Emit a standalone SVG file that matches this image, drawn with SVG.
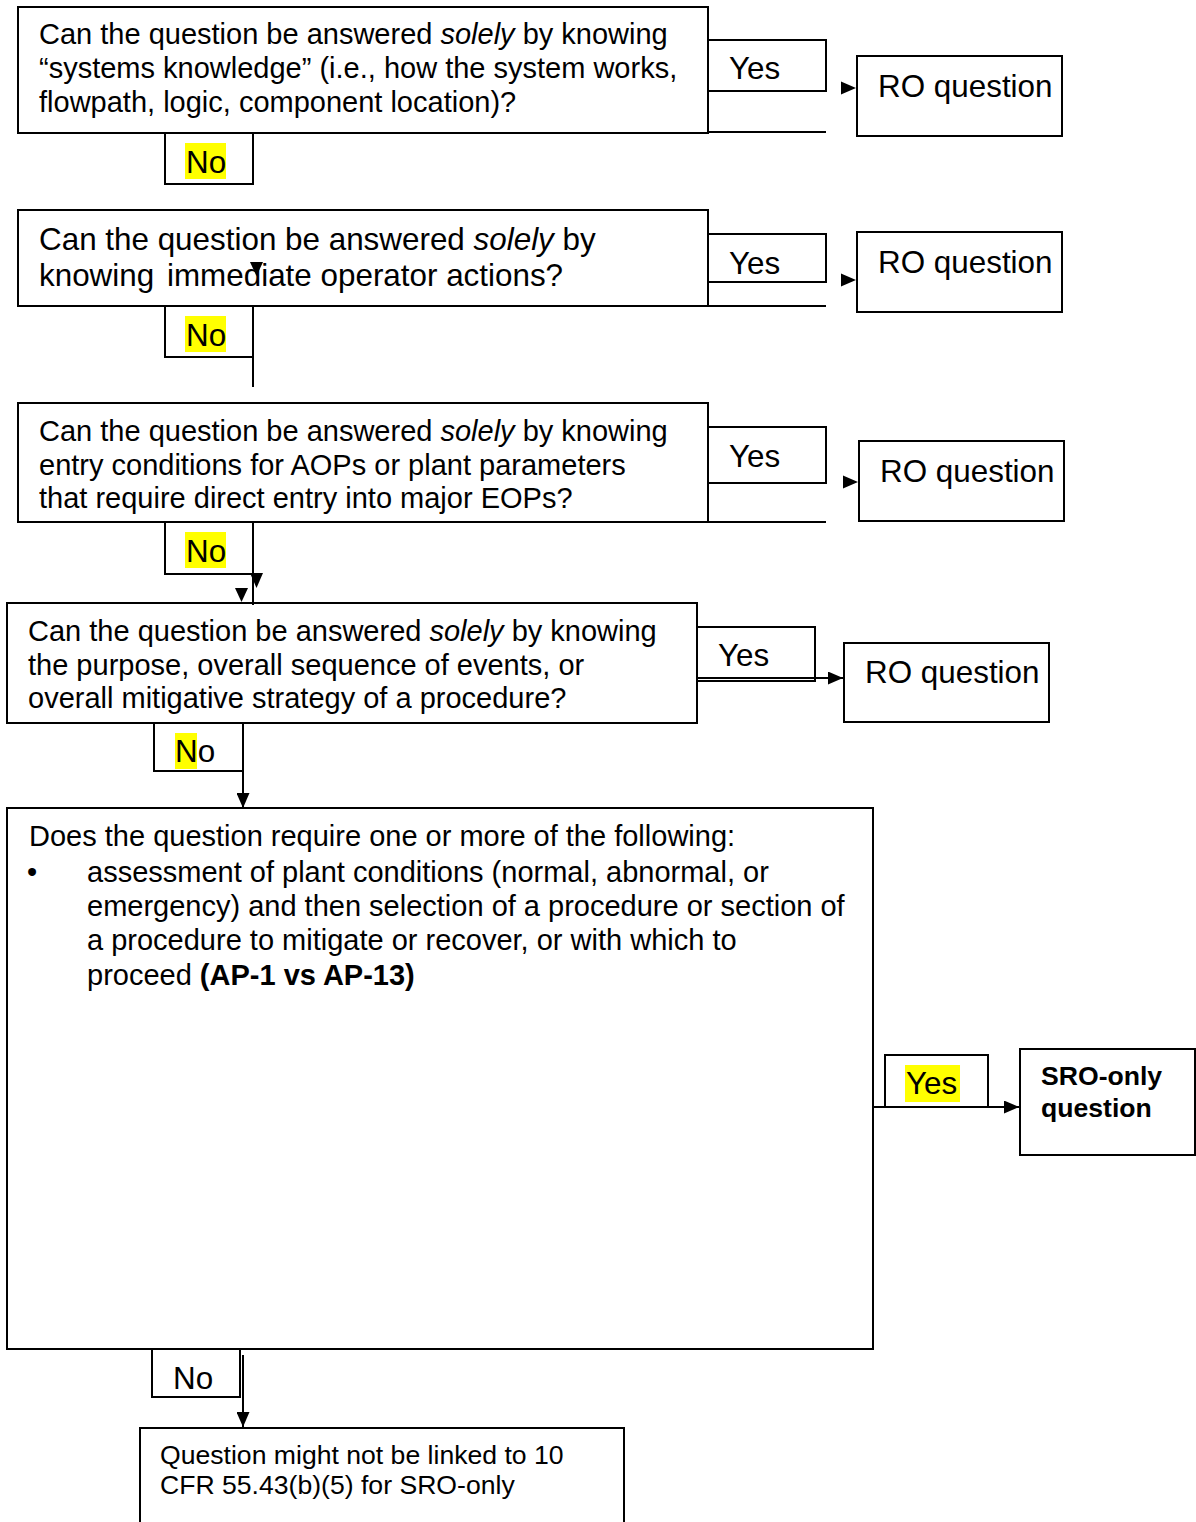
<svg xmlns="http://www.w3.org/2000/svg" width="1196" height="1522" viewBox="0 0 1196 1522">
<style>
.box{fill:#fff;stroke:#000;stroke-width:2}
.lbl{fill:none;stroke:#000;stroke-width:2}
.ln{fill:none;stroke:#000;stroke-width:2}
.t{font-family:"Liberation Sans",Arial,sans-serif;fill:#000}
.s12{font-size:29px}
.s13{font-size:31.4px}
.s11{font-size:26.6px}
.b{font-weight:bold}
.i{font-style:italic}
.hl{fill:#ffff00}
.ah{fill:#000}
</style>
<defs>
<marker id="arr" viewBox="0 0 15 13" refX="15" refY="6.5" markerUnits="userSpaceOnUse" markerWidth="15" markerHeight="13" orient="auto">
<path d="M0,0 L15,6.5 L0,13 z" fill="#000"/>
</marker>
</defs>
<rect x="0" y="0" width="1196" height="1522" fill="#fff"/>

<g id="q1">
<rect class="box" x="18" y="7" width="690" height="126"/>
<text class="t s12" x="39" y="44">Can the question be answered <tspan class="i">solely</tspan> by knowing</text>
<text class="t s12" x="39" y="78">“systems knowledge” (i.e., how the system works,</text>
<text class="t s12" x="39" y="112">flowpath, logic, component location)?</text>
</g>
<g id="ro1">
<rect class="box" x="857" y="56" width="205" height="80"/>
<text class="t s13" x="878" y="97">RO question</text>
</g>

<g id="q2">
<rect class="box" x="18" y="210" width="690" height="96"/>
<text class="t s13" x="39" y="250">Can the question be answered <tspan class="i">solely</tspan> by</text>
<text class="t s13" x="39" y="286">knowing<tspan x="167">immediate operator actions?</tspan></text>
</g>
<g id="ro2">
<rect class="box" x="857" y="232" width="205" height="80"/>
<text class="t s13" x="878" y="273">RO question</text>
</g>

<g id="q3">
<rect class="box" x="18" y="403" width="690" height="119"/>
<text class="t s12" x="39" y="441">Can the question be answered <tspan class="i">solely</tspan> by knowing</text>
<text class="t s12" x="39" y="475">entry conditions for AOPs or plant parameters</text>
<text class="t s12" x="39" y="508">that require direct entry into major EOPs?</text>
</g>
<g id="ro3">
<rect class="box" x="859" y="441" width="205" height="80"/>
<text class="t s13" x="880" y="482">RO question</text>
</g>

<g id="q4">
<rect class="box" x="7" y="603" width="690" height="120"/>
<text class="t s12" x="28" y="641">Can the question be answered <tspan class="i">solely</tspan> by knowing</text>
<text class="t s12" x="28" y="675">the purpose, overall sequence of events, or</text>
<text class="t s12" x="28" y="708">overall mitigative strategy of a procedure?</text>
</g>
<g id="ro4">
<rect class="box" x="844" y="643" width="205" height="79"/>
<text class="t s13" x="865" y="683">RO question</text>
</g>

<g id="q5">
<rect class="box" x="7" y="808" width="866" height="541"/>
<text class="t s12" x="29" y="846">Does the question require one or more of the following:</text>
<text class="t s12" x="27" y="882">•</text>
<text class="t s12" x="87" y="882">assessment of plant conditions (normal, abnormal, or</text>
<text class="t s12" x="87" y="916">emergency) and then selection of a procedure or section of</text>
<text class="t s12" x="87" y="950">a procedure to mitigate or recover, or with which to</text>
<text class="t s12" x="87" y="985">proceed <tspan class="b">(AP-1 vs AP-13)</tspan></text>
</g>
<g id="sro">
<rect class="box" x="1020" y="1049" width="175" height="106"/>
<text class="t s11 b" x="1041" y="1085">SRO-only</text>
<text class="t s11 b" x="1041" y="1117">question</text>
</g>

<g id="notlinked">
<rect class="box" x="140" y="1428" width="484" height="110"/>
<text class="t s11" x="160" y="1464">Question might not be linked to 10</text>
<text class="t s11" x="160" y="1494">CFR 55.43(b)(5) for SRO-only</text>
</g>

<g id="connectors">
<rect class="lbl" x="708" y="40" width="118" height="51"/>
<text class="t s13" x="729" y="79">Yes</text>
<line class="ln" x1="708" y1="132" x2="826" y2="132"/>
<polygon class="ah" points="841,81.5 856,88 841,94.5"/>
<rect class="lbl" x="165" y="133" width="88" height="51"/>
<rect class="hl" x="185" y="143" width="41" height="36"/>
<text class="t s13" x="186" y="173">No</text>

<rect class="lbl" x="708" y="234" width="118" height="48"/>
<text class="t s13" x="729" y="274">Yes</text>
<line class="ln" x1="708" y1="306" x2="826" y2="306"/>
<polygon class="ah" points="841,273.5 856,280 841,286.5"/>
<rect class="lbl" x="165" y="306" width="88" height="51"/>
<line class="ln" x1="253" y1="357" x2="253" y2="387"/>
<rect class="hl" x="185" y="316" width="41" height="36"/>
<text class="t s13" x="186" y="346">No</text>
<polygon class="ah" points="250,262 263,262 256.5,276"/>

<rect class="lbl" x="708" y="427" width="118" height="56"/>
<text class="t s13" x="729" y="467">Yes</text>
<line class="ln" x1="708" y1="522" x2="826" y2="522"/>
<polygon class="ah" points="843,475.5 858,482 843,488.5"/>
<rect class="lbl" x="165" y="522" width="88" height="52"/>
<rect class="hl" x="185" y="532" width="41" height="36"/>
<text class="t s13" x="186" y="562">No</text>
<line class="ln" x1="253" y1="574" x2="253" y2="605"/>
<polygon class="ah" points="250,573 263,573 256.5,588"/>
<polygon class="ah" points="235,588 248,588 241.5,602"/>

<rect class="lbl" x="697" y="627" width="118" height="54"/>
<text class="t s13" x="718" y="666">Yes</text>
<line class="ln" x1="697" y1="678" x2="843" y2="678" marker-end="url(#arr)"/>
<rect class="lbl" x="154" y="723" width="89" height="48"/>
<rect class="hl" x="175" y="733" width="22" height="36"/>
<text class="t s13" x="175" y="762">No</text>
<line class="ln" x1="243" y1="771" x2="243" y2="808" marker-end="url(#arr)"/>

<rect class="lbl" x="885" y="1055" width="103" height="52"/>
<rect class="hl" x="905" y="1065" width="55" height="37"/>
<text class="t s13" x="906" y="1094">Yes</text>
<line class="ln" x1="873" y1="1107" x2="1019" y2="1107" marker-end="url(#arr)"/>
<rect class="lbl" x="152" y="1349" width="88" height="48"/>
<text class="t s13" x="173" y="1389">No</text>
<line class="ln" x1="243" y1="1355" x2="243" y2="1427" marker-end="url(#arr)"/>
</g>
</svg>
